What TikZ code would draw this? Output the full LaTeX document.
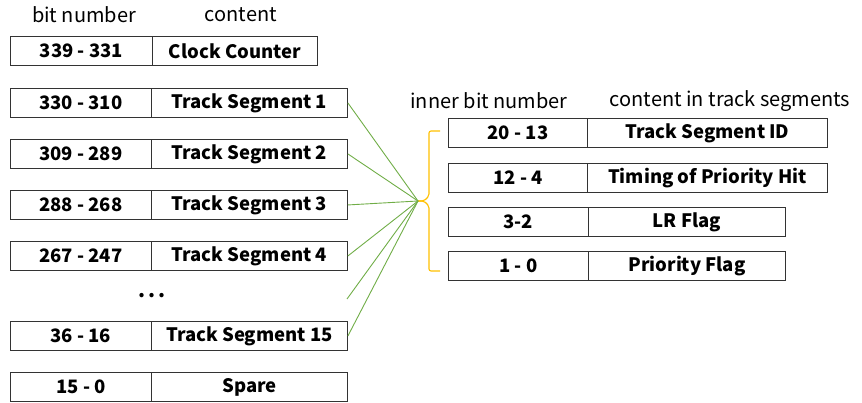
\documentclass[tikz,border=0pt]{standalone}
\usepackage{fontspec}
\setmainfont{Noto Sans CJK JP}
\definecolor{linkgreen}{HTML}{70AD47}
\definecolor{braceorange}{HTML}{FFC000}
\begin{document}
\begin{tikzpicture}[x=1pt,y=-1pt,
  cell/.style={draw=black!80, line width=0.9pt, anchor=north west, minimum height=29pt,
    inner sep=0pt, font=\fontsize{18.5}{18.5}\selectfont\bfseries},
  head/.style={font=\fontsize{20}{20}\selectfont, inner sep=0pt},
  link/.style={draw=linkgreen, line width=0.9pt},
  brace/.style={draw=braceorange, line width=1.1pt, rounded corners=2pt}]
\useasboundingbox (0,0) rectangle (862,403);

% column headings
\node[head] (hbit) at (84,15) {bit number};
\node[head] (hcont) at (241,15) {content};
\node[head] (hinner) at (489,101) {inner bit number};
\node[head] (hseg) at (730,101) {content in track segments};

% outer word layout
\node[cell, minimum width=142pt] (b0) at (10,36) {339 - 331};
\node[cell, minimum width=165pt] (c0) at (152,36) {Clock Counter};
\node[cell, minimum width=141pt] (b1) at (10,88) {330 - 310};
\node[cell, minimum width=196pt] (c1) at (151,88) {Track Segment 1};
\node[cell, minimum width=141pt] (b2) at (10,139) {309 - 289};
\node[cell, minimum width=196pt] (c2) at (151,139) {Track Segment 2};
\node[cell, minimum width=141pt] (b3) at (10,190) {288 - 268};
\node[cell, minimum width=196pt] (c3) at (151,190) {Track Segment 3};
\node[cell, minimum width=141pt] (b4) at (10,241) {267 - 247};
\node[cell, minimum width=196pt] (c4) at (151,241) {Track Segment 4};
\node[head] (dots) at (152,296) {\textbf{.\,.\,.}};
\node[cell, minimum width=141pt] (b15) at (10,321) {36 - 16};
\node[cell, minimum width=196pt] (c15) at (151,321) {Track Segment 15};
\node[cell, minimum width=141pt] (bs) at (10,372) {15 - 0};
\node[cell, minimum width=196pt] (cs) at (151,372) {Spare};

% inner track segment layout
\node[cell, minimum width=139pt] (ib1) at (448,118) {20 - 13};
\node[cell, minimum width=240pt] (ic1) at (587,118) {Track Segment ID};
\node[cell, minimum width=139pt] (ib2) at (448,163) {12 - 4};
\node[cell, minimum width=240pt] (ic2) at (587,163) {Timing of Priority Hit};
\node[cell, minimum width=140pt] (ib3) at (448,207) {3-2};
\node[cell, minimum width=197pt] (ic3) at (588,207) {LR Flag};
\node[cell, minimum width=140pt] (ib4) at (448,251) {1 - 0};
\node[cell, minimum width=197pt] (ic4) at (588,251) {Priority Flag};

% brace grouping the inner fields
\coordinate (tip) at (418,201);
\coordinate (dotsend) at (347,299);
\draw[brace] (440,131) -- (429,131) -- (429,196) -- (424,201) -- (tip);
\draw[brace] (tip) -- (424,201) -- (429,206) -- (429,271) -- (440,271);

% links from each track segment to the brace
\foreach \n in {c1,c2,c3,c4,c15}
  \draw[link] (\n.east) -- (tip);
\draw[link] (dotsend) -- (tip);
\end{tikzpicture}
\end{document}
